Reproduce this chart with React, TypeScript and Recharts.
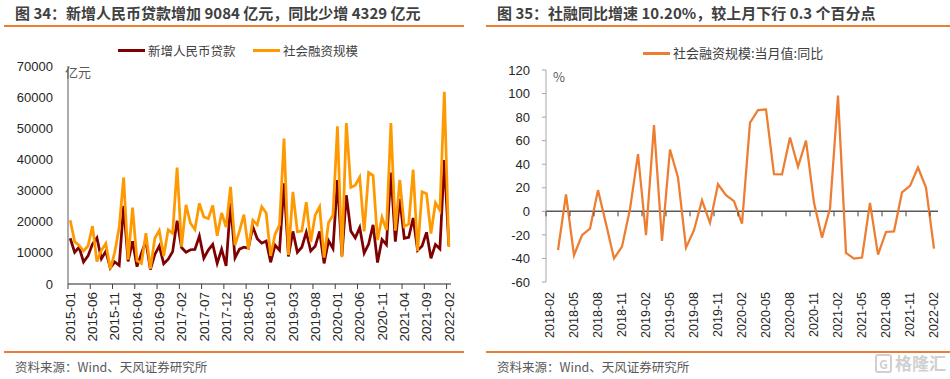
import React from "react";
import { LineChart, Line, XAxis, YAxis, ReferenceLine } from "recharts";

// month labels for the category axes
function monthRange(startY: number, startM: number, count: number) {
  const out: string[] = [];
  for (let i = 0; i < count; i++) {
    const t = startM - 1 + i;
    const y = startY + Math.floor(t / 12);
    const m = (t % 12) + 1;
    out.push(`${y}-${String(m).padStart(2, "0")}`);
  }
  return out;
}

const LEFT_MONTHS = monthRange(2015, 1, 86);
const RIGHT_MONTHS = monthRange(2018, 2, 49);

// 新增人民币贷款（亿元）
const NEW_LOANS = [
  14700, 10200, 11800, 7080, 9010, 12800, 14800, 8100, 10500, 5140, 7090, 5980,
  25100, 7270, 13700, 5560, 9860, 13800, 4640, 9490, 12200, 6510, 7950, 10400,
  20300, 11700, 10200, 11000, 11100, 15400, 8260, 10900, 12700, 6630, 11200, 5840,
  26000, 8390, 11200, 11800, 11500, 18400, 14500, 13100, 13800, 6970, 12500, 10800,
  32300, 8860, 16900, 10200, 11800, 16600, 10600, 12100, 16900, 6610, 13900, 11400,
  33400, 9060, 28500, 17000, 14800, 18100, 9930, 12800, 19000, 6900, 14300, 12600,
  35800, 13600, 27300, 14700, 15000, 21200, 10800, 12200, 16600, 8260, 12700, 11300,
  39800, 12300,
];

// 社会融资规模（亿元）
const TSF = [
  20500, 13600, 12400, 10600, 12200, 18600, 7200, 10800, 13000, 4800, 10200, 18200,
  34200, 7800, 24500, 7500, 6600, 16300, 4900, 14700, 17200, 9000, 17400, 16300,
  37400, 12000, 25400, 19500, 17500, 25900, 21500, 21000, 25200, 15500, 22800, 18300,
  31200, 12500, 17000, 22300, 11200, 20500, 19000, 24800, 22800, 9000, 16000, 19000,
  46700, 9300, 29600, 16800, 17000, 26300, 13500, 22100, 24800, 8500, 19700, 22100,
  50600, 8600, 51700, 31000, 31700, 34300, 16900, 35800, 34800, 14100, 21400, 17300,
  51700, 17100, 33400, 18500, 19200, 36700, 10600, 29600, 29000, 16200, 26100, 23700,
  61700, 11900,
];

// 社会融资规模:当月值:同比（%）
const TSF_YOY = [
  null, -33, 14.3, -37.3, -20.3, -14.6, 18, -10.5, -40, -30, 2,
  48.6, -20.3, 73.2, -25.1, 52.5, 28.7, -30.8, -16, 9.4, -9.8, 23, 13.7,
  8.6, -10.4, 75.2, 86, 86.5, 31.5, 31.3, 62.7, 37.8, 60, 7.2, -22.3,
  2.4, 98.2, -35.3, -40.2, -39.3, 7.2, -36.8, -17.5, -17, 16, 21.6, 37.2,
  20.2, -31.7,
];

const LEFT_TICKS = [0, 10000, 20000, 30000, 40000, 50000, 60000, 70000];
const RIGHT_TICKS = [-60, -40, -20, 0, 20, 40, 60, 80, 100, 120];

const leftData = LEFT_MONTHS.map((month, i) => ({
  month,
  loans: NEW_LOANS[i],
  tsf: TSF[i],
}));
const rightData = RIGHT_MONTHS.map((month, i) => ({ month, yoy: TSF_YOY[i] }));

const NUM_FONT = "'Liberation Sans', Arial, 'Noto Sans CJK SC', sans-serif";
const CJK_FONT = "'Noto Sans CJK SC', 'Liberation Sans', sans-serif";
const ORANGE_RULE = "#ED7D31";
const TEXT = "#404040";

// rotated month label, tick mark drawn at the category boundary
function MonthTick(props: any) {
  const { x, y, payload, half, lineY, gap, fontSize } = props;
  const ty = y + gap;
  return (
    <g>
      <line x1={x - half} x2={x - half} y1={lineY} y2={lineY + 5} stroke="#404040" strokeWidth={1} />
      <text
        x={x}
        y={ty}
        transform={`rotate(-90 ${x} ${ty})`}
        textAnchor="end"
        dy="0.35em"
        fontSize={fontSize}
        fontFamily={NUM_FONT}
        fill="#262626"
      >
        {payload.value}
      </text>
    </g>
  );
}

function Title({ left, children }: { left: number; children: React.ReactNode }) {
  return (
    <div
      style={{
        position: "absolute",
        left,
        top: 3,
        fontFamily: CJK_FONT,
        fontWeight: 700,
        fontSize: 15,
        lineHeight: "20px",
        color: TEXT,
        whiteSpace: "nowrap",
      }}
    >
      {children}
    </div>
  );
}

function Rule({ left, width, top }: { left: number; width: number; top: number }) {
  return (
    <div style={{ position: "absolute", left, top, width, height: 1.5, background: ORANGE_RULE }} />
  );
}

function LegendItem({ left, top, color, label, size }: any) {
  return (
    <div style={{ position: "absolute", left, top, display: "flex", alignItems: "center", whiteSpace: "nowrap" }}>
      <div style={{ width: 27, height: 3, background: color, marginRight: 3 }} />
      <span style={{ fontFamily: CJK_FONT, fontSize: size, color: TEXT, lineHeight: "16px" }}>{label}</span>
    </div>
  );
}

function Note({ left, top, text, size = 13 }: any) {
  return (
    <div
      style={{
        position: "absolute",
        left,
        top,
        fontFamily: CJK_FONT,
        fontSize: size,
        lineHeight: "16px",
        color: "#595959",
        whiteSpace: "nowrap",
      }}
    >
      {text}
    </div>
  );
}

// right plot spans y 70..282 for -60..120, so the 0 line sits at:
const R_TOP = 70;
const R_BOTTOM = 282;
const R_ZERO = R_TOP + ((120 - 0) / 180) * (R_BOTTOM - R_TOP);

export default function App() {
  return (
    <div style={{ position: "absolute", left: 0, top: 0, width: 950, height: 379, background: "#fff", overflow: "hidden" }}>
      <Title left={15}>图 34：新增人民币贷款增加 9084 亿元，同比少增 4329 亿元</Title>
      <Title left={497}>图 35：社融同比增速 10.20%，较上月下行 0.3 个百分点</Title>
      <Rule left={4} width={460} top={25} />
      <Rule left={486} width={464} top={25} />

      <LegendItem left={118} top={42.5} color="#7F0000" label="新增人民币贷款" size={12.5} />
      <LegendItem left={253} top={42.5} color="#FF9900" label="社会融资规模" size={12.5} />
      <LegendItem left={643} top={45} color="#ED7D31" label="社会融资规模:当月值:同比" size={13} />

      <div style={{ position: "absolute", left: 0, top: 0 }}>
        <LineChart width={475} height={379} data={leftData} margin={{ top: 66, right: 24, bottom: 35, left: 0 }}>
          <XAxis
            dataKey="month"
            interval={4}
            height={60}
            padding={{ left: 2.2, right: 2.2 }}
            stroke="#262626"
            tickSize={0}
            tickMargin={0}
            tickLine={false}
            tick={(p: any) => <MonthTick {...p} half={2.22} lineY={284} gap={8} fontSize={13.5} />}
          />
          <YAxis
            width={68}
            domain={[0, 70000]}
            ticks={LEFT_TICKS}
            interval={0}
            stroke="#595959"
            tickLine={false}
            tickSize={0}
            tickMargin={15}
            tick={{ fontSize: 13, fill: "#262626", fontFamily: NUM_FONT }}
          />
          <Line dataKey="loans" stroke="#7F0000" strokeWidth={2.75} dot={false} isAnimationActive={false} />
          <Line dataKey="tsf" stroke="#FF9900" strokeWidth={2.75} dot={false} isAnimationActive={false} />
        </LineChart>
      </div>

      <div style={{ position: "absolute", left: 475, top: 0 }}>
        <LineChart width={475} height={379} data={rightData} margin={{ top: R_TOP, right: 12, bottom: 37, left: 0 }}>
          <XAxis
            dataKey="month"
            interval={2}
            height={60}
            padding={{ left: 4, right: 4 }}
            axisLine={false}
            tickSize={0}
            tickMargin={0}
            tickLine={false}
            tick={(p: any) => <MonthTick {...p} half={4} lineY={R_ZERO} gap={10} fontSize={12.5} />}
          />
          <YAxis
            width={71}
            domain={[-60, 120]}
            ticks={RIGHT_TICKS}
            interval={0}
            stroke="#A6A6A6"
            tickSize={4}
            tickMargin={12}
            tick={{ fontSize: 13, fill: "#262626", fontFamily: NUM_FONT }}
          />
          <ReferenceLine y={0} stroke="#595959" strokeWidth={1.5} />
          <Line dataKey="yoy" stroke="#ED7D31" strokeWidth={2.25} dot={false} isAnimationActive={false} />
        </LineChart>
      </div>

      <Note left={65} top={64} text="亿元" />
      <Note left={553} top={69} text="%" />

      <Rule left={4} width={460} top={351} />
      <Rule left={486} width={464} top={351} />
      <Note left={15} top={359} text="资料来源：Wind、天风证券研究所" size={12.5} />
      <Note left={497} top={359} text="资料来源：Wind、天风证券研究所" size={12.5} />

      <div
        style={{
          position: "absolute",
          left: 875,
          top: 353,
          display: "flex",
          alignItems: "center",
          color: "#D0D0D0",
          fontFamily: CJK_FONT,
          fontWeight: 700,
          fontSize: 17,
          lineHeight: "20px",
        }}
      >
        <span style={{ border: "2px solid #D0D0D0", borderRadius: 3, width: 13, height: 15, fontSize: 12, lineHeight: "15px", textAlign: "center", marginRight: 3 }}>G</span>
        格隆汇
      </div>
    </div>
  );
}
